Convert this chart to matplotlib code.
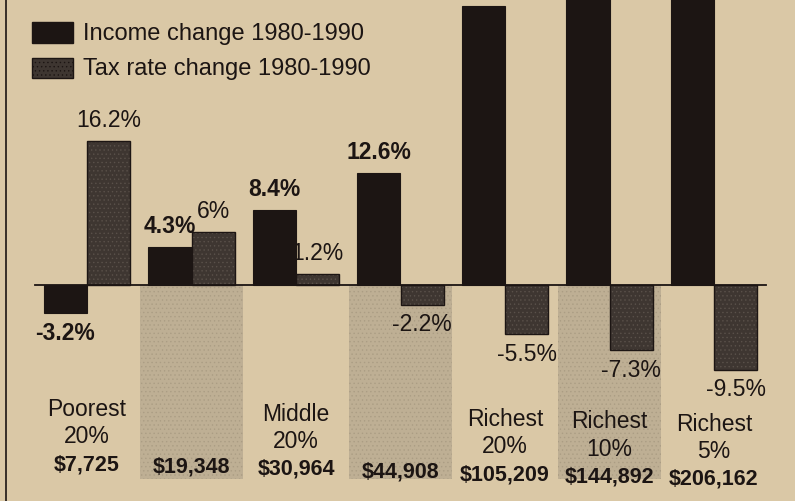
import matplotlib
matplotlib.use("Agg")
import matplotlib.pyplot as plt
import numpy as np

# ---- data ----
groups_name = ["Poorest\n20%", "", "Middle\n20%", "", "Richest\n20%", "Richest\n10%", "Richest\n5%"]
groups_income = ["$7,725", "$19,348", "$30,964", "$44,908", "$105,209", "$144,892", "$206,162"]
income_change = [-3.2, 4.3, 8.4, 12.6, 31.3, 41.0, 50.0]
tax_change = [16.2, 6.0, 1.2, -2.2, -5.5, -7.3, -9.5]
income_labels = ["-3.2%", "4.3%", "8.4%", "12.6%", "", "", ""]
tax_labels = ["16.2%", "6%", "1.2%", "-2.2%", "-5.5%", "-7.3%", "-9.5%"]
legend_labels = ["Income change 1980-1990", "Tax rate change 1980-1990"]

BG = "#dac8a6"
BLACK = "#1c1513"
TAX = "#3e3631"
BAND = "#beaf94"
FONT = ["Liberation Sans", "DejaVu Sans"]

W, H = 795, 501
fig = plt.figure(figsize=(W / 100, H / 100), dpi=100, facecolor=BG)
ax = fig.add_axes([0, 0, 1, 1])
ax.set_facecolor(BG)

spacing = 104.5       # px per group
x0 = 87.0             # px center of first group
base_px = 285.0       # baseline px from top
scale = 8.9           # px per percent
ax.set_xlim(-x0 / spacing, (W - x0) / spacing)
ax.set_ylim(-(H - base_px) / scale, base_px / scale)
ax.axis("off")

n = len(income_change)
x = np.arange(n)
bw = 0.416

# shaded bands under baseline for alternating groups
plt.rcParams["hatch.color"] = "#ab9d84"
plt.rcParams["hatch.linewidth"] = 0.5
band_bottom = -21.8
for i in x:
    if i % 2 == 1:
        ax.bar(i, band_bottom, width=0.98, bottom=0, color=BAND, edgecolor="#ab9d84", zorder=1,
               hatch="....", linewidth=0)

ax.bar(x - bw / 2, income_change, width=bw, color=BLACK, edgecolor=BLACK, linewidth=0.8, zorder=3)
ax.bar(x + bw / 2, tax_change, width=bw, color=TAX, edgecolor="#5a514a", linewidth=0, zorder=3,
       hatch="....")
ax.bar(x + bw / 2, tax_change, width=bw, color="none", edgecolor=BLACK, linewidth=1.0, zorder=3.5)

# baseline
ax.plot([-0.5, 6.5], [0, 0], color=BLACK, lw=1.3, zorder=4)

pad = 1.0
LS = 16.5
for i in x:
    v = income_change[i]
    if income_labels[i]:
        if v >= 0:
            ax.text(i - bw / 2, v + pad, income_labels[i], ha="center", va="bottom",
                    fontsize=LS, fontweight="bold", family=FONT, color=BLACK, zorder=5)
        else:
            ax.text(i - bw / 2, v - pad, income_labels[i], ha="center", va="top",
                    fontsize=LS, fontweight="bold", family=FONT, color=BLACK, zorder=5)
    t = tax_change[i]
    if t >= 0:
        ax.text(i + bw / 2, t + pad, tax_labels[i], ha="center", va="bottom",
                fontsize=LS, family=FONT, color=BLACK, zorder=5)
    else:
        ax.text(i + bw / 2, t - pad, tax_labels[i], ha="center", va="top",
                fontsize=LS, family=FONT, color=BLACK, zorder=5)

# category labels
for i in x:
    ypix_money = 472 + (i - 3) * 2.5
    ax.text(i, (base_px - ypix_money) / scale, groups_income[i], ha="center", va="center",
            fontsize=15.5, fontweight="bold", family=FONT, color=BLACK, zorder=5)
    if groups_name[i]:
        l1, l2 = groups_name[i].split("\n")
        ax.text(i, (base_px - (ypix_money - 55)) / scale, l1, ha="center", va="center",
                fontsize=16.5, family=FONT, color=BLACK, zorder=5)
        ax.text(i, (base_px - (ypix_money - 28)) / scale, l2, ha="center", va="center",
                fontsize=16.5, family=FONT, color=BLACK, zorder=5)

# legend (figure pixel coordinates)
def fx(px):
    return px / W

def fy(py):
    return 1 - py / H

fig.patches.append(plt.Rectangle((fx(32), fy(43)), fx(73) - fx(32), fy(22) - fy(43),
                                 transform=fig.transFigure, facecolor=BLACK, edgecolor=BLACK, zorder=6))
fig.patches.append(plt.Rectangle((fx(32), fy(78)), fx(73) - fx(32), fy(58) - fy(78),
                                 transform=fig.transFigure, facecolor=TAX, edgecolor=BLACK,
                                 hatch="....", zorder=6))
fig.text(fx(83), fy(34), legend_labels[0], ha="left", va="center", fontsize=17, family=FONT, color=BLACK)
fig.text(fx(83), fy(69), legend_labels[1], ha="left", va="center", fontsize=17, family=FONT, color=BLACK)

# page rule on left
fig.lines.append(plt.Line2D([fx(6), fx(6)], [0, 1], transform=fig.transFigure, color=BLACK, lw=1.2))

fig.savefig("out.png", dpi=100, facecolor=BG)
